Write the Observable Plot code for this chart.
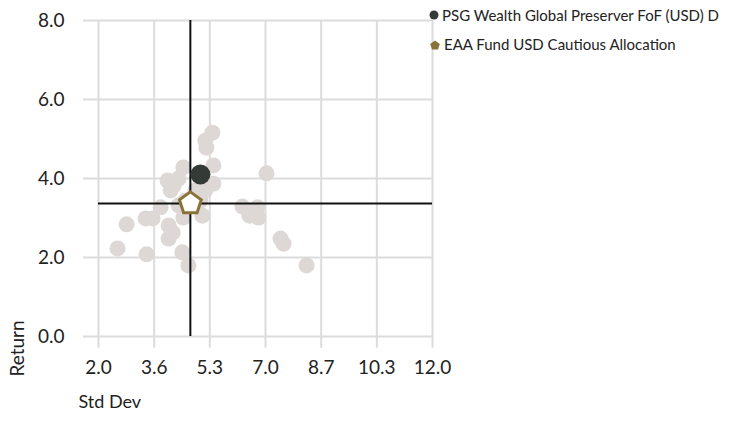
<!DOCTYPE html>
<html>
<head>
<meta charset="utf-8">
<script src="https://cdn.jsdelivr.net/npm/d3@7"></script>
<script src="https://cdn.jsdelivr.net/npm/@observablehq/plot@0.6"></script>
<style>
  html, body { margin: 0; padding: 0; background: #fff; }
  #wrap { position: relative; width: 742px; height: 422px; font-family: Lato, sans-serif; }
  #legend { position: absolute; left: 429px; top: 5px; font-size: 15px; color: #222; }
  .li { display: flex; align-items: center; height: 20px; margin-bottom: 9px; white-space: nowrap; }
  .li svg { margin-right: 3px; }
</style>
</head>
<body>
<div id="wrap">
  <div id="chart"></div>
  <div id="legend"></div>
</div>
<script>
// ---- data ----
const peerStdDev = [5.41, 5.20, 5.23, 5.44, 5.44, 4.54, 4.07, 4.25, 4.16, 4.40, 3.86, 4.54, 5.11, 3.41, 3.62, 2.84, 4.10, 4.22, 4.10, 2.57, 3.44, 4.51, 4.69, 7.03, 6.31, 6.52, 6.76, 6.79, 7.45, 7.54, 8.23, 4.90, 4.60, 5.05, 4.40, 5.20];
const peerReturn = [5.16, 4.96, 4.78, 4.33, 3.87, 4.28, 3.95, 3.82, 3.70, 4.00, 3.27, 3.01, 3.06, 2.99, 2.99, 2.84, 2.81, 2.63, 2.48, 2.23, 2.08, 2.13, 1.80, 4.13, 3.29, 3.06, 3.27, 3.01, 2.48, 2.35, 1.80, 3.70, 3.44, 3.44, 3.32, 3.70];
const fundName = "PSG Wealth Global Preserver FoF (USD) D";
const fundStdDev = 5.05;
const fundReturn = 4.10;
const benchName = "EAA Fund USD Cautious Allocation";
const benchStdDev = 4.75;
const benchReturn = 3.37;
const xTicks = [2, 3.667, 5.333, 7, 8.667, 10.333, 12];
const xTickLabels = ["2.0", "3.6", "5.3", "7.0", "8.7", "10.3", "12.0"];
const yTicks = [0, 2, 4, 6, 8];
const yTickLabels = ["0.0", "2.0", "4.0", "6.0", "8.0"];
const xLabel = "Std Dev";
const yLabel = "Return";

const peers = peerStdDev.map((x, i) => ({x, y: peerReturn[i]}));
const fund = [{x: fundStdDev, y: fundReturn}];
const bench = [{x: benchStdDev, y: benchReturn}];

const pentagon = {
  draw(context, size) {
    const r = Math.sqrt(size / 2.378);
    for (let i = 0; i < 5; i++) {
      const a = -Math.PI / 2 + i * 2 * Math.PI / 5;
      const px = r * Math.cos(a), py = r * Math.sin(a);
      if (i === 0) context.moveTo(px, py); else context.lineTo(px, py);
    }
    context.closePath();
  }
};

const gridColor = "#dcdcdc";
const chart = Plot.plot({
  width: 742,
  height: 422,
  marginLeft: 98,
  marginRight: 310,
  marginTop: 20,
  marginBottom: 86,
  style: {fontFamily: "Lato, sans-serif", fontSize: "19px", color: "#222", overflow: "visible"},
  x: {domain: [2, 12], ticks: xTicks, tickFormat: (d, i) => xTickLabels[i], tickSize: 0, tickPadding: 24, label: null},
  y: {domain: [0, 8], ticks: yTicks, tickFormat: (d, i) => yTickLabels[i], tickSize: 0, tickPadding: 34, label: null},
  marks: [
    Plot.ruleX(xTicks, {x: d => d, y1: 8, y2: -0.3, stroke: gridColor, strokeWidth: 2}),
    Plot.ruleY(yTicks, {y: d => d, x1: 1.55, x2: 12, stroke: gridColor, strokeWidth: 2}),
    Plot.dot(peers, {x: "x", y: "y", r: 8, fill: "#ddd8d6", stroke: null}),
    Plot.ruleX(bench, {x: "x", y1: 0, y2: 8, stroke: "#111", strokeWidth: 2}),
    Plot.ruleY(bench, {y: "y", x1: 2, x2: 12, stroke: "#111", strokeWidth: 2}),
    Plot.dot(fund, {x: "x", y: "y", r: 10, fill: "#343a36", stroke: null}),
    Plot.dot(bench, {x: "x", y: "y", r: 10, symbol: pentagon, fill: "white", stroke: "#8a7338", strokeWidth: 3}),
    Plot.text([xLabel], {frameAnchor: "bottom-left", dx: -20, dy: 71, text: d => d, textAnchor: "start", fontSize: 18}),
    Plot.text([yLabel], {frameAnchor: "bottom-left", dx: -75, dy: 12, text: d => d, rotate: -90, textAnchor: "middle", fontSize: 19})
  ]
});
document.getElementById("chart").appendChild(chart);

const legend = document.getElementById("legend");
legend.innerHTML = `
  <div class="li"><svg width="10" height="10"><circle cx="5" cy="5" r="4.5" fill="#343a36"/></svg>${fundName}</div>
  <div class="li"><svg width="12" height="11"><path d="M6,1.5 L10.8,5 L9,10.5 L3,10.5 L1.2,5 Z" fill="#8a7338"/></svg>${benchName}</div>
`;
</script>
</body>
</html>
